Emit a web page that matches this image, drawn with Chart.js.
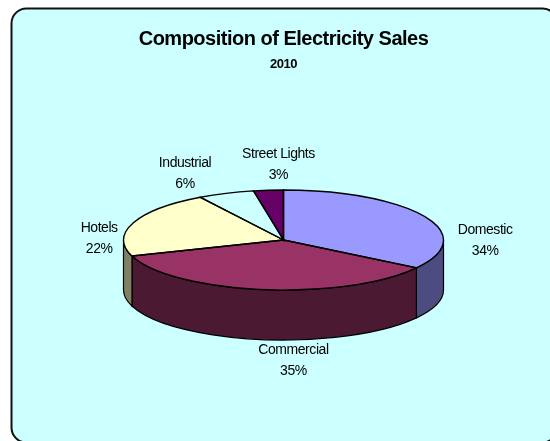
<!DOCTYPE html>
<html>
<head>
<meta charset="utf-8">
<style>
  html, body { margin: 0; padding: 0; background: #fff; overflow: hidden; }
  canvas { display: block; }
</style>
<script src="https://cdn.jsdelivr.net/npm/chart.js@4"></script>
</head>
<body>
<canvas id="salesChart" width="550" height="441"></canvas>
<script>
const categories = ['Domestic', 'Commercial', 'Hotels', 'Industrial', 'Street Lights'];
const shares = [34.4, 35.4, 21.5, 5.7, 3.0];
const topColors = ['#9999FF', '#993366', '#FFFFCC', '#CCFFFF', '#660066'];
const sideColors = ['#4C4C80', '#4C1933', '#808066', '#668080', '#330033'];
// where each label sits, measured from the slice's rim point
const labelOffsets = [[60.5, 24], [31, 71], [-34, 15.5], [-41, -20], [10, -26]];

const squash = 50 / 160;
const depth = 50;

function ellipseSlice(ctx, arc) {
  ctx.moveTo(arc.x, arc.y);
  ctx.ellipse(arc.x, arc.y, arc.outerRadius, arc.outerRadius * squash, 0, arc.startAngle, arc.endAngle);
  ctx.closePath();
}

const pie3d = {
  id: 'pie3d',
  beforeDraw(chart) {
    const ctx = chart.ctx;
    ctx.save();
    ctx.fillStyle = '#fff';
    ctx.fillRect(0, 0, 550, 441);
    ctx.beginPath();
    ctx.roundRect(11.5, 8.5, 546, 434, 15);
    ctx.fillStyle = '#CCFFFF';
    ctx.fill();
    ctx.lineWidth = 2;
    ctx.strokeStyle = '#111';
    ctx.stroke();
    ctx.restore();
    // title and subtitle are a bit condensed in the original
    ctx.letterSpacing = '-0.5px';
  },
  beforeDatasetsDraw(chart) {
    // the wall under the front half of the pie
    const ctx = chart.ctx;
    ctx.save();
    ctx.lineWidth = 1.2;
    ctx.strokeStyle = '#000';
    chart.getDatasetMeta(0).data.forEach((arc, i) => {
      const a0 = Math.max(arc.startAngle, 0);
      const a1 = Math.min(arc.endAngle, Math.PI);
      if (a1 <= a0) return;
      const rx = arc.outerRadius, ry = rx * squash;
      ctx.beginPath();
      ctx.ellipse(arc.x, arc.y, rx, ry, 0, a0, a1);
      ctx.ellipse(arc.x, arc.y + depth, rx, ry, 0, a1, a0, true);
      ctx.closePath();
      ctx.fillStyle = sideColors[i];
      ctx.fill();
      ctx.stroke();
    });
    ctx.restore();
  },
  beforeDatasetDraw(chart) {
    const ctx = chart.ctx;
    const arc = chart.getDatasetMeta(0).data[0];
    ctx.save();
    ctx.translate(arc.x, arc.y);
    ctx.scale(1, squash);
    ctx.translate(-arc.x, -arc.y);
  },
  afterDatasetDraw(chart) {
    const ctx = chart.ctx;
    ctx.restore();
    ctx.save();
    ctx.lineWidth = 1.4;
    ctx.strokeStyle = '#000';
    chart.getDatasetMeta(0).data.forEach((arc) => {
      ctx.beginPath();
      ellipseSlice(ctx, arc);
      ctx.stroke();
    });
    ctx.restore();
  },
  afterDraw(chart) {
    const ctx = chart.ctx;
    ctx.save();
    ctx.font = '14px "Liberation Sans", Arial, sans-serif';
    ctx.letterSpacing = '-0.45px';
    ctx.fillStyle = '#000';
    ctx.textAlign = 'center';
    ctx.textBaseline = 'middle';
    chart.getDatasetMeta(0).data.forEach((arc, i) => {
      const mid = (arc.startAngle + arc.endAngle) / 2;
      const x = arc.x + Math.cos(mid) * arc.outerRadius + labelOffsets[i][0];
      const y = arc.y + Math.sin(mid) * arc.outerRadius * squash + labelOffsets[i][1];
      ctx.fillText(categories[i], x, y - 10.5);
      ctx.fillText(Math.round(shares[i]) + '%', x, y + 10.5);
    });
    ctx.restore();
  }
};

new Chart(document.getElementById('salesChart'), {
  type: 'pie',
  data: {
    labels: categories,
    datasets: [{
      data: shares,
      backgroundColor: topColors,
      borderWidth: 0
    }]
  },
  plugins: [pie3d],
  options: {
    responsive: false,
    animation: false,
    layout: { padding: { left: 123.5, right: 106.5, top: 27, bottom: 41 } },
    plugins: {
      legend: { display: false },
      tooltip: { enabled: false },
      title: {
        display: true,
        text: 'Composition of Electricity Sales',
        color: '#000',
        font: { family: '"Liberation Sans", Arial, sans-serif', size: 20, weight: 'bold' },
        padding: { top: 0, bottom: 6 }
      },
      subtitle: {
        display: true,
        text: '2010',
        color: '#000',
        font: { family: '"Liberation Sans", Arial, sans-serif', size: 13, weight: 'bold' },
        padding: { top: 0, bottom: 7.4 }
      }
    }
  }
});
</script>
</body>
</html>
